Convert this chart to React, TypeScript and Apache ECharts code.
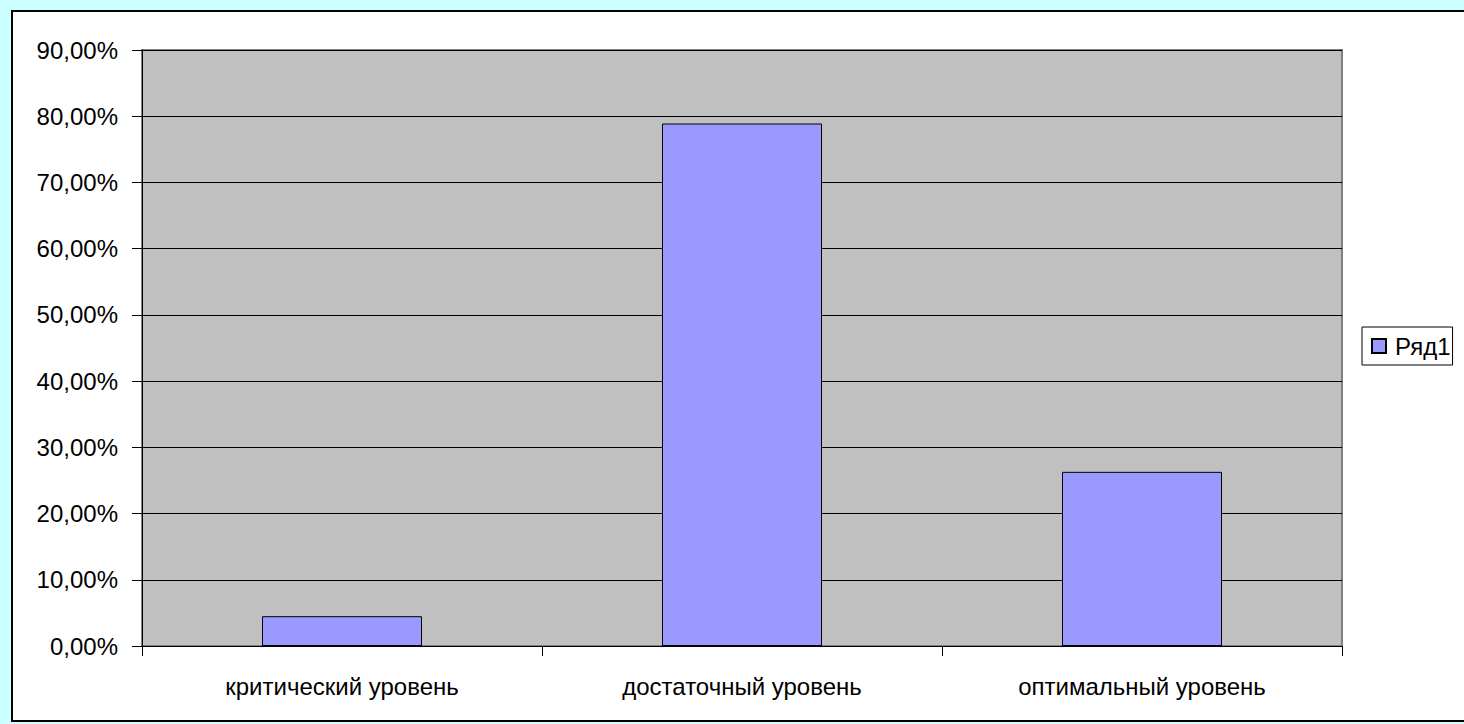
import React, { useEffect, useRef } from "react";
import * as echarts from "echarts";

const categories = ["критический уровень", "достаточный уровень", "оптимальный уровень"];
const values = [4.5, 78.9, 26.3];
const seriesName = "Ряд1";
const yMin = 0;
const yMax = 90;
const yStep = 10;

const FONT = "'Liberation Sans', Arial, sans-serif";

export default function App() {
  const ref = useRef<HTMLDivElement>(null);
  useEffect(() => {
    if (!ref.current) return;
    const chart = echarts.init(ref.current, undefined, { renderer: "svg" });
    chart.setOption({
      animation: false,
      backgroundColor: "transparent",
      textStyle: { fontFamily: FONT },
      grid: {
        left: 142,
        top: 50,
        right: 122,
        bottom: 78,
        show: true,
        backgroundColor: "#C0C0C0",
        borderColor: "#808080",
        borderWidth: 2,
      },
      legend: {
        show: true,
        left: 1362,
        top: 327,
        orient: "vertical",
        backgroundColor: "#FFFFFF",
        borderColor: "#000000",
        borderWidth: 1,
        borderRadius: 0,
        padding: [7, 2, 7, 9],
        itemWidth: 14,
        itemHeight: 14,
        icon: "rect",
        textStyle: { fontFamily: FONT, fontSize: 24, color: "#000000", padding: [0, 0, 0, 4] },
        data: [seriesName],
      },
      xAxis: {
        type: "category",
        data: categories,
        axisLine: { show: true, lineStyle: { color: "#000000", width: 1 } },
        axisTick: { show: true, alignWithLabel: false, length: 10, lineStyle: { color: "#000000" } },
        axisLabel: { fontFamily: FONT, fontSize: 24, color: "#000000", margin: 28, interval: 0 },
        splitLine: { show: false },
      },
      yAxis: {
        type: "value",
        min: yMin,
        max: yMax,
        interval: yStep,
        axisLine: { show: true, lineStyle: { color: "#000000", width: 1 } },
        axisTick: { show: true, length: 10, lineStyle: { color: "#000000" } },
        axisLabel: {
          fontFamily: FONT,
          fontSize: 24,
          color: "#000000",
          margin: 24,
          formatter: (v: number) => v.toFixed(2).replace(".", ",") + "%",
        },
        splitLine: { show: true, lineStyle: { color: "#000000", width: 1 } },
      },
      series: [
        {
          name: seriesName,
          type: "bar",
          data: values,
          barCategoryGap: "60%",
          itemStyle: { color: "#9999FF", borderColor: "#000000", borderWidth: 1 },
        },
      ],
    });
    return () => chart.dispose();
  }, []);

  return (
    <div
      style={{
        position: "absolute",
        left: 0,
        top: 0,
        width: 1464,
        height: 724,
        background: "#CCFFFF",
        overflow: "hidden",
      }}
    >
      <div
        style={{
          position: "absolute",
          left: 11,
          top: 10,
          width: 1464,
          height: 712,
          border: "2px solid #000000",
          boxSizing: "border-box",
          background: "#FFFFFF",
        }}
      />
      <div ref={ref} style={{ position: "absolute", left: 0, top: 0, width: 1464, height: 724 }} />
    </div>
  );
}
